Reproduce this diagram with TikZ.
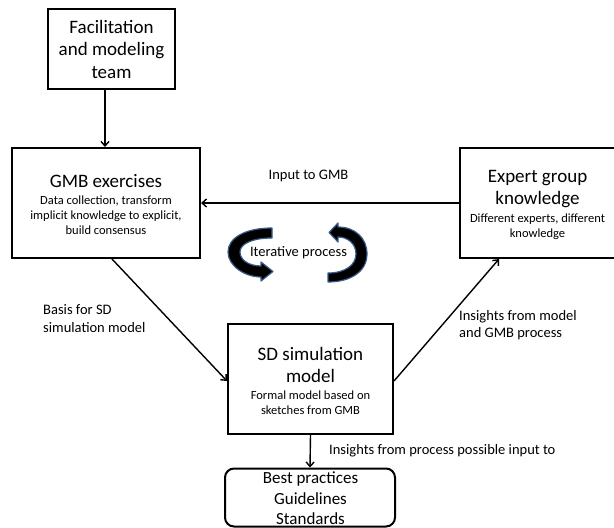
\documentclass[tikz,border=0pt]{standalone}
\usepackage{fontspec}
\setmainfont{Carlito}
\usetikzlibrary{arrows.meta}
\newcommand\titlesize{\fontsize{19}{22.5}\selectfont}
\newcommand\subsize{\fontsize{12.5}{15}\selectfont}
\newcommand\labelsize{\fontsize{14.5}{17.5}\selectfont}
\newcommand\bestsize{\fontsize{17}{20.5}\selectfont}
\definecolor{ribbonedge}{RGB}{56,93,138}

\begin{document}
\begin{tikzpicture}[x=1pt,y=-1pt,
  box/.style={draw, line width=2pt, inner sep=0pt},
  rbox/.style={box, rounded corners=9pt},
  title/.style={align=center, inner sep=0pt, font=\titlesize},
  sub/.style={align=center, inner sep=0pt, font=\subsize},
  lbl/.style={align=left, inner sep=0pt, font=\labelsize},
  conn/.style={line width=1.4pt, -{Straight Barb[length=4.5pt,width=8pt]}},
  ribbon/.style={fill=black, draw=ribbonedge, line width=1.2pt, line join=round}]

\useasboundingbox (0,0) rectangle (614,528);

% boxes
\node[box, minimum width=127pt, minimum height=80pt] (fac) at (111.5,49) {};
\node[title] (facT) at (fac.center) {Facilitation\\and modeling\\team};

\node[box, minimum width=188pt, minimum height=110pt] (gmb) at (106,203) {};
\node[title] (gmbT) at (106,181) {GMB exercises};
\node[sub] (gmbS) at (106,215) {Data collection, transform\\implicit knowledge to explicit,\\build consensus};

\node[box, minimum width=155pt, minimum height=110pt] (exp) at (537.5,203) {};
\node[title] (expT) at (537.5,189) {Expert group\\knowledge};
\node[sub] (expS) at (537.5,227) {Different experts, different\\knowledge};

\node[box, minimum width=165pt, minimum height=110pt] (sd) at (310.5,379) {};
\node[title] (sdT) at (310.5,365) {SD simulation\\model};
\node[sub] (sdS) at (310.5,402.5) {Formal model based on\\sketches from GMB};

\node[rbox, minimum width=170pt, minimum height=58pt] (best) at (310,497.5) {};
\node[align=center, inner sep=0pt, font=\bestsize] (bestT) at (310.5,498.5) {Best practices\\Guidelines\\Standards};

% connectors
\draw[conn] ([xshift=-6.5pt]fac.south) -- ([xshift=-6.5pt]fac.south |- gmb.north);
\draw[conn] (exp.west) -- (gmb.east);
\draw[conn] ([xshift=6pt]gmb.south) -- ([yshift=-2pt]sd.west);
\draw[conn] ([yshift=-2pt]sd.east) -- ([xshift=-38.5pt]exp.south);
\draw[conn] (sd.south) -- (best.north);

% connector labels
\node[font=\labelsize, inner sep=0pt] (lInput) at (308.5,176) {Input to GMB};
\node[lbl, anchor=west] (lBasis) at (43,318.5) {Basis for SD\\simulation model};
\node[lbl, anchor=west] (lIns) at (459,325) {Insights from model\\and GMB process};
\node[font=\labelsize, inner sep=0pt, anchor=west] (lOut) at (329,451) {Insights from process possible input to};

% iterative process ribbons
\node[font=\labelsize, inner sep=0pt] (iter) at (298.5,253) {Iterative process};
\path[ribbon] (272,228) .. controls (245,228) and (228,238) .. (228,252)
  .. controls (228,266) and (245,277) .. (261,277) -- (261,281) -- (273,271.5)
  -- (261,262) -- (261,266) .. controls (249,266) and (240,260) .. (240,252)
  .. controls (240,244) and (252,238) .. (272,238) -- cycle;
\path[ribbon] (338,227) .. controls (355,227) and (367,238) .. (367,254)
  .. controls (367,272) and (350,282) .. (328,282) -- (328,273)
  .. controls (345,273) and (356,265) .. (356,254)
  .. controls (356,244) and (348,237) .. (338,237) -- (338,242)
  -- (329,232.5) -- (338,223) -- cycle;

\end{tikzpicture}
\end{document}
